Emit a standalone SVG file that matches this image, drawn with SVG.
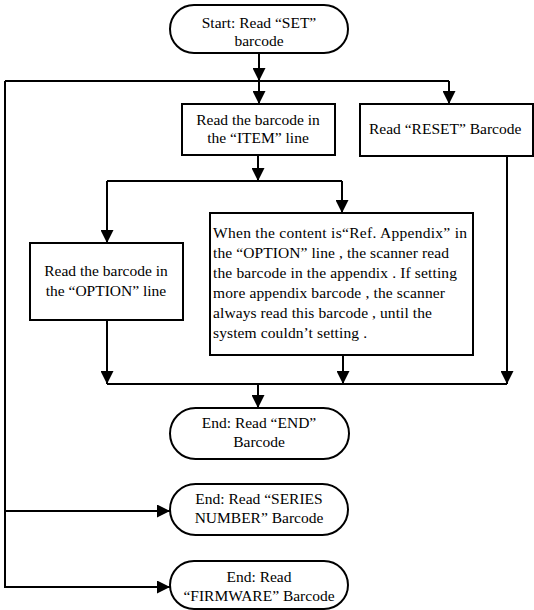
<svg xmlns="http://www.w3.org/2000/svg" width="534" height="610" viewBox="0 0 534 610">
<style>
.box{fill:#fff;stroke:#000;stroke-width:2}
.ln{fill:none;stroke:#000;stroke-width:2}
.arr{marker-end:url(#ah)}
text{font-family:'Liberation Serif','Times New Roman','DejaVu Serif',serif;font-size:15.5px;fill:#000}
.c{text-anchor:middle}
</style>
<defs>
<marker id="ah" markerUnits="userSpaceOnUse" markerWidth="13" markerHeight="13" refX="13" refY="6.5" orient="auto">
<path d="M0,0 L13,6.5 L0,13 z" fill="#000"/>
</marker>
</defs>
<rect width="534" height="610" fill="#fff"/>
<g id="connectors">
<path class="ln arr" d="M259,53 V81"/>
<path class="ln" d="M5,81 H449"/>
<path class="ln arr" d="M259,81 V104"/>
<path class="ln arr" d="M449,81 V104"/>
<path class="ln arr" d="M5,81 V587 H170"/>
<path class="ln arr" d="M5,511 H170"/>
<path class="ln arr" d="M258,155 V181"/>
<path class="ln" d="M107,181 H342"/>
<path class="ln arr" d="M107,181 V243"/>
<path class="ln arr" d="M342,181 V213"/>
<path class="ln arr" d="M107,320 V384"/>
<path class="ln" d="M107,384 H507"/>
<path class="ln arr" d="M343,355 V384"/>
<path class="ln arr" d="M507,156 V384"/>
<path class="ln arr" d="M258,384 V408"/>
</g>
<g font-family="Liberation Serif, Times New Roman, serif">
<g id="start">
<rect class="box" x="170" y="5" width="178" height="48" rx="24"/>
<text class="c" x="259" y="28">Start: Read “SET”</text>
<text class="c" x="259" y="46">barcode</text>
</g>
<g id="item">
<rect class="box" x="182" y="104" width="153" height="51"/>
<text class="c" x="258" y="125">Read the barcode in</text>
<text class="c" x="258" y="143">the “ITEM” line</text>
</g>
<g id="reset">
<rect class="box" x="360" y="104" width="173" height="52"/>
<text x="369" y="134">Read “RESET” Barcode</text>
</g>
<g id="option">
<rect class="box" x="30" y="243" width="153" height="77"/>
<text class="c" x="106" y="276">Read the barcode in</text>
<text class="c" x="106" y="296">the “OPTION” line</text>
</g>
<g id="appendix">
<rect class="box" x="210" y="213" width="263" height="142"/>
<text x="213" y="238" textLength="254" lengthAdjust="spacing">When the content is“Ref. Appendix” in</text>
<text x="213" y="258" textLength="236" lengthAdjust="spacing">the “OPTION” line , the scanner read</text>
<text x="213" y="278" textLength="244" lengthAdjust="spacing">the barcode in the appendix  . If setting</text>
<text x="213" y="298" textLength="232" lengthAdjust="spacing">more appendix barcode , the scanner</text>
<text x="213" y="318" textLength="219" lengthAdjust="spacing">always read this barcode , until the</text>
<text x="213" y="338" textLength="154" lengthAdjust="spacing">system couldn’t setting .</text>
</g>
<g id="end">
<rect class="box" x="170" y="408" width="179" height="51" rx="25.5"/>
<text class="c" x="259" y="428">End: Read “END”</text>
<text class="c" x="259" y="447">Barcode</text>
</g>
<g id="series">
<rect class="box" x="170" y="484" width="178" height="51" rx="25.5"/>
<text class="c" x="259" y="504">End: Read “SERIES</text>
<text class="c" x="259" y="523">NUMBER” Barcode</text>
</g>
<g id="firmware">
<rect class="box" x="170" y="561" width="178" height="48" rx="24"/>
<text class="c" x="259" y="582">End: Read</text>
<text class="c" x="259" y="601">“FIRMWARE” Barcode</text>
</g>
</g>
</svg>
